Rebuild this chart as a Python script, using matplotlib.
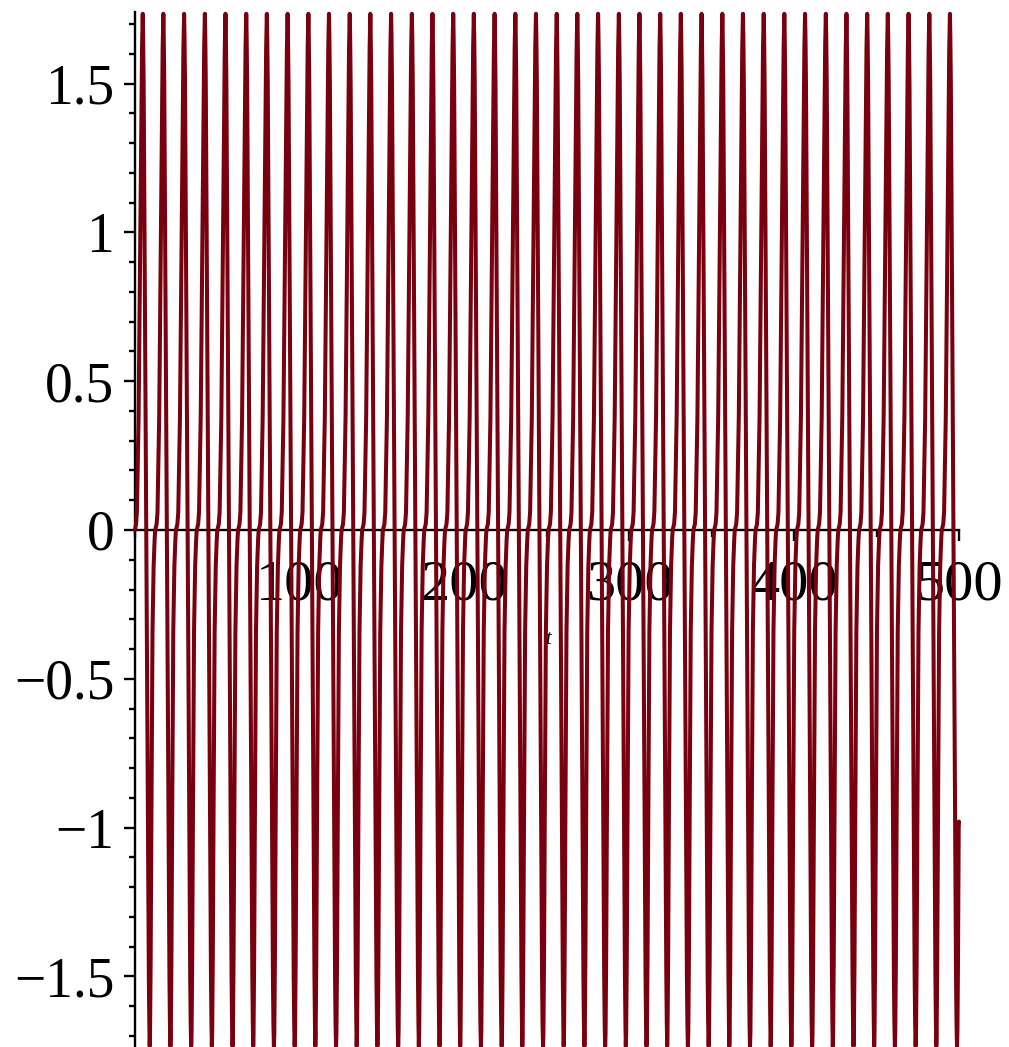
import numpy as np
import matplotlib
matplotlib.use("Agg")
import matplotlib.pyplot as plt
from matplotlib.ticker import FixedLocator, FixedFormatter, MultipleLocator

# ---- data ----
# times of the maxima of the oscillation
peak_t = [4.7, 17.2, 29.8, 42.4, 54.9, 67.5, 80.0, 92.6, 105.2, 117.7,
          130.3, 142.8, 155.4, 168.0, 180.5, 193.1, 205.6, 218.2, 230.8, 243.3,
          255.9, 268.4, 281.0, 293.6, 306.1, 318.7, 331.2, 343.8, 356.4, 368.9,
          381.5, 394.0, 406.6, 419.2, 431.7, 444.3, 456.8, 469.4, 482.0, 494.5,
          507.1]
# shape of one cycle, offsets in t relative to a maximum, and values
shape_dt = [-8.31, -8.07, -7.71, -7.28, -6.58, -5.89, -5.28, -4.95, -4.07, -3.55,
            -2.52, -1.64, -0.85, -0.42, 0.0, 0.24, 0.55, 0.91, 1.52, 2.12,
            2.73, 3.34, 3.70, 4.00, 4.25]
shape_y = [-1.735, -1.69, -1.45, -1.0, -0.34, -0.12, -0.03, 0.0, 0.02, 0.06,
           0.38, 0.9, 1.4, 1.62, 1.735, 1.66, 1.5, 1.15, 0.6, 0.0,
           -0.6, -1.15, -1.5, -1.66, -1.735]
start_point = (0.0, 0.0)
end_point = (500.0, -0.98)

xtick_major = [100, 200, 300, 400, 500]
xtick_labels = ["100", "200", "300", "400", "500"]
ytick_major = [-1.5, -1.0, -0.5, 0.0, 0.5, 1.0, 1.5]
ytick_labels = ["\u22121.5", "\u22121", "\u22120.5", "0", "0.5", "1", "1.5"]

# ---- build curve from the cycle shape placed at each maximum ----
tt, yy = [], []
for p in peak_t:
    for d, v in zip(shape_dt, shape_y):
        tt.append(p + d)
        yy.append(v)
tt = np.array(tt)
yy = np.array(yy)
m = (tt > start_point[0]) & (tt < end_point[0])
tt = np.concatenate([[start_point[0]], tt[m], [end_point[0]]])
yy = np.concatenate([[start_point[1]], yy[m], [end_point[1]]])

W, H = 1009, 1047
fig = plt.figure(figsize=(W / 100, H / 100), dpi=100)
ax = fig.add_axes([135 / W, (H - 1048) / H, 824 / W, (1048 - 12) / H])
ax.set_xlim(0, 500)
ax.set_ylim(-1.741, 1.741)

ax.plot(tt, yy, color="#78000f", lw=2.9, solid_joinstyle="round",
        solid_capstyle="round", clip_on=False, zorder=3)

for s in ["top", "right"]:
    ax.spines[s].set_visible(False)
ax.spines["bottom"].set_position(("data", 0))
for s in ["left", "bottom"]:
    ax.spines[s].set_linewidth(1.7)
    ax.spines[s].set_zorder(2)

serif = "Liberation Serif"
ax.xaxis.set_major_locator(FixedLocator(xtick_major))
ax.xaxis.set_major_formatter(FixedFormatter(xtick_labels))
ax.xaxis.set_minor_locator(MultipleLocator(50))
ax.yaxis.set_major_locator(FixedLocator(ytick_major))
ax.yaxis.set_major_formatter(FixedFormatter(ytick_labels))
ax.yaxis.set_minor_locator(MultipleLocator(0.1))

ax.tick_params(axis="x", which="major", direction="out", length=8, width=1.7, pad=13)
ax.tick_params(axis="x", which="minor", direction="out", length=5, width=1.7)
ax.tick_params(axis="y", which="major", direction="out", length=8, width=1.7, pad=7)
ax.tick_params(axis="y", which="minor", direction="out", length=4.3, width=1.7)
for lab in ax.get_xticklabels():
    lab.set_fontfamily(serif)
    lab.set_fontsize(42)
for lab in ax.get_yticklabels():
    lab.set_fontfamily(serif)
    lab.set_fontsize(40)

fig.text(548 / W, 1 - 640 / H, "t", fontfamily=serif, fontstyle="italic",
         fontsize=15, ha="center", va="center")

fig.savefig("out.png", dpi=100)
